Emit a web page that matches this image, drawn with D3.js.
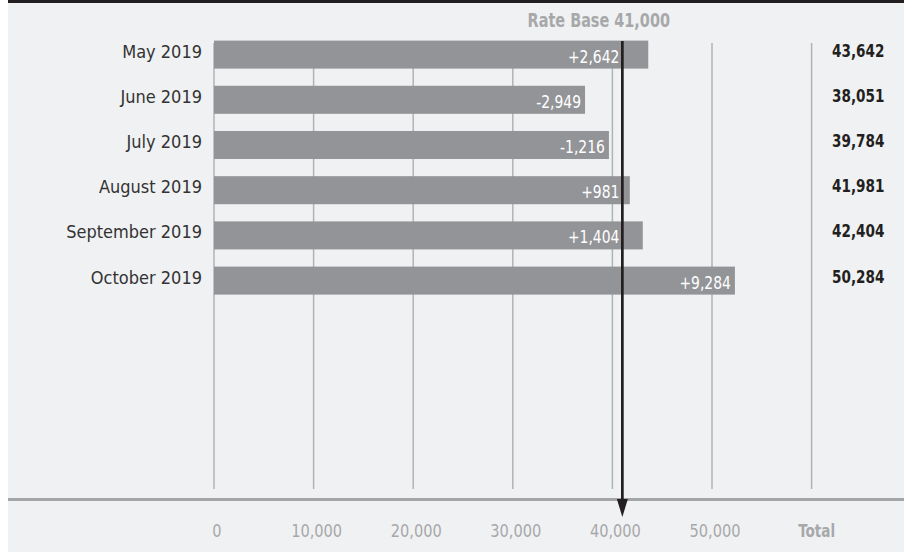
<!DOCTYPE html>
<meta charset="utf-8">
<script src="https://d3js.org/d3.v7.min.js"></script>
<style>
  body { margin: 0; background: #fff; }
  text { font-family: "Liberation Sans Narrow", "DejaVu Sans Condensed", "Arial Narrow", sans-serif; }
</style>
<div id="my_dataviz"></div>
<script>

// data
var months = ["May 2019", "June 2019", "July 2019", "August 2019", "September 2019", "October 2019"];
var changes = [2642, -2949, -1216, 981, 1404, 9284];
var totals = [43642, 38051, 39784, 41981, 42404, 50284];
// bar lengths as drawn in the original (they are not exactly the totals)
var barLengths = [43600, 37250, 39650, 41750, 43050, 52300];
var rateBase = 41000;
var tickValues = [0, 10000, 20000, 30000, 40000, 50000];
var totalLabel = "Total";
var totalPos = 60000;

var width = 904, height = 552;

var svg = d3.select("#my_dataviz")
  .append("svg")
    .attr("width", width)
    .attr("height", height);

// the original uses a condensed face: squeeze the numbers a bit
function place(ax, ay, k) {
  return "translate(" + ax + "," + ay + ") scale(" + k + ",1)";
}

// panel background + black top rule
svg.append("rect")
  .attr("x", 8).attr("y", 0)
  .attr("width", width - 8).attr("height", height)
  .attr("fill", "#f0f1f3");
svg.append("rect")
  .attr("x", 8).attr("y", 0)
  .attr("width", width - 8).attr("height", 3)
  .attr("fill", "#231f20");

// scales
var x = d3.scaleLinear()
  .domain([0, 60000])
  .range([214, 811.6]);

var y = d3.scaleBand()
  .domain(months)
  .range([32, 303.2])
  .paddingInner(0.38)
  .paddingOuter(0.19);

// vertical grid lines (values + Total column)
svg.append("g")
  .selectAll("line")
  .data(tickValues.concat([totalPos]))
  .join("line")
    .attr("x1", function(d) { return x(d); })
    .attr("x2", function(d) { return x(d); })
    .attr("y1", 43)
    .attr("y2", 489)
    .attr("stroke", "#b1b2b4")
    .attr("stroke-width", 1.5);

// bars
var rows = months.map(function(m, i) {
  return { month: m, change: changes[i], total: totals[i], len: barLengths[i] };
});

svg.append("g")
  .selectAll("rect")
  .data(rows)
  .join("rect")
    .attr("x", x(0))
    .attr("y", function(d) { return y(d.month); })
    .attr("width", function(d) { return x(d.len) - x(0); })
    .attr("height", y.bandwidth())
    .attr("fill", "#939497");

// month labels
svg.append("g")
  .selectAll("text")
  .data(rows)
  .join("text")
    .attr("x", 202)
    .attr("y", function(d) { return y(d.month) + 17; })
    .attr("text-anchor", "end")
    .attr("font-size", 18)
    .attr("fill", "#333")
    .text(function(d) { return d.month; });

// change labels inside bars
var fmt = d3.format(",");
svg.append("g")
  .selectAll("text")
  .data(rows)
  .join("text")
    .attr("transform", function(d) {
      var end = x(d.len), ax;
      if (end > x(rateBase) && end - x(rateBase) < 40) ax = x(rateBase) - 3;
      else ax = end - 4;
      return place(ax, y(d.month) + 22, 0.86);
    })
    .attr("text-anchor", "end")
    .attr("font-size", 18)
    .attr("fill", "#fff")
    .text(function(d) { return (d.change > 0 ? "+" : "-") + fmt(Math.abs(d.change)); });

// totals column
svg.append("g")
  .selectAll("text")
  .data(rows)
  .join("text")
    .attr("transform", function(d) { return place(832, y(d.month) + 16, 0.84); })
    .attr("font-size", 18)
    .attr("font-weight", "bold")
    .attr("fill", "#231f20")
    .text(function(d) { return fmt(d.total); });

// x axis line
svg.append("line")
  .attr("x1", 8).attr("x2", width)
  .attr("y1", 499.5).attr("y2", 499.5)
  .attr("stroke", "#a4a5a7")
  .attr("stroke-width", 3);

// x axis labels
svg.append("g")
  .selectAll("text")
  .data(tickValues)
  .join("text")
    .attr("transform", function(d) { return place(x(d) + 3, 537, 0.9); })
    .attr("text-anchor", "middle")
    .attr("font-size", 18)
    .attr("fill", "#a7a8aa")
    .text(function(d) { return fmt(d); });

svg.append("text")
  .attr("transform", place(x(totalPos) + 5, 537, 0.84))
  .attr("text-anchor", "middle")
  .attr("font-size", 18)
  .attr("font-weight", "bold")
  .attr("fill", "#a7a8aa")
  .text(totalLabel);

// rate base arrow
var xb = x(rateBase);
svg.append("line")
  .attr("x1", xb).attr("x2", xb)
  .attr("y1", 41).attr("y2", 502)
  .attr("stroke", "#231f20")
  .attr("stroke-width", 2.7);
svg.append("path")
  .attr("d", "M" + (xb - 5.5) + ",499 L" + (xb + 5.5) + ",499 L" + xb + ",517 Z")
  .attr("fill", "#231f20");

svg.append("text")
  .attr("transform", place(670, 27, 0.845))
  .attr("text-anchor", "end")
  .attr("font-size", 19)
  .attr("font-weight", "bold")
  .attr("fill", "#a7a8aa")
  .text("Rate Base " + fmt(rateBase));

</script>
